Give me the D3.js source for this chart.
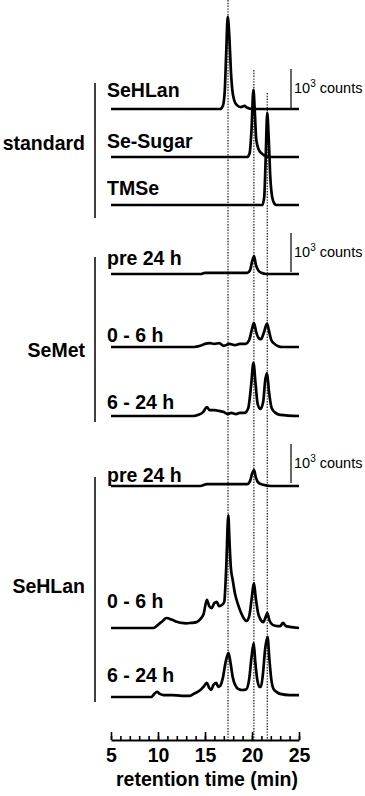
<!DOCTYPE html>
<html>
<head>
<meta charset="utf-8">
<script src="https://cdn.jsdelivr.net/npm/d3@7"></script>
<style>
  html, body { margin: 0; padding: 0; background: #fff; }
  svg { display: block; font-family: "Liberation Sans", Arial, sans-serif; }
</style>
</head>
<body>
<svg id="chart" width="365" height="796"></svg>
<script>
// retention time (min) / intensity (counts)
const stdSeHLan = [[5,0],[16.6,0],[16.9,80],[17.1,450],[17.25,1400],[17.42,2360],[17.6,1800],[17.75,1000],[17.9,500],[18.1,230],[18.4,100],[18.8,50],[19.2,80],[19.5,30],[20,0],[25,0]];
const stdSeSugar = [[5,0],[19.5,0],[19.75,100],[19.95,700],[20.15,1720],[20.3,1150],[20.45,450],[20.7,200],[21.0,100],[21.4,30],[21.7,0],[25,0]];
const stdTMSe = [[5,0],[21.1,0],[21.3,200],[21.45,1150],[21.62,2360],[21.78,1700],[21.95,700],[22.15,200],[22.4,30],[22.6,0],[25,0]];

const semetPre = [[5,0],[14.5,0],[15,30],[17,30],[19.5,30],[19.8,100],[20.0,310],[20.22,460],[20.4,250],[20.65,100],[21,30],[21.5,0],[25,0]];
const semet0to6 = [[5,0],[13.8,0],[14.5,30],[15,80],[15.5,100],[16,80],[16.5,100],[17,30],[17.6,80],[18.2,50],[18.7,80],[19.3,80],[19.7,180],[20.0,460],[20.2,620],[20.45,380],[20.7,230],[20.95,200],[21.25,360],[21.6,600],[21.8,420],[22.05,180],[22.4,80],[22.8,20],[23.2,0],[25,0]];
const semet6to24 = [[5,0],[13.8,0],[14.3,30],[14.8,100],[15.2,230],[15.5,150],[16,150],[16.5,130],[17,100],[17.4,50],[17.8,80],[18.3,50],[18.7,80],[19.2,80],[19.6,200],[19.9,770],[20.15,1360],[20.4,770],[20.6,310],[20.9,180],[21.2,380],[21.4,900],[21.6,1100],[21.8,640],[22.1,200],[22.5,80],[23,30],[25,0]];

const sehlanPre = [[5,0],[14.5,0],[15.2,50],[17,50],[19.5,50],[19.8,130],[20.0,310],[20.22,410],[20.4,230],[20.7,80],[21.2,30],[22,0],[25,0]];
const sehlan0to6 = [[5,0],[9.5,0],[10,80],[10.5,180],[10.9,256],[11.5,210],[12,160],[12.5,130],[13,120],[13.5,130],[14.1,150],[14.5,230],[14.85,360],[15.2,720],[15.45,560],[15.7,510],[16.0,640],[16.25,670],[16.5,560],[16.8,590],[17.05,670],[17.25,1500],[17.48,2890],[17.6,2250],[17.75,1540],[17.95,1230],[18.2,870],[18.5,610],[18.8,410],[19.1,260],[19.4,180],[19.7,300],[19.95,720],[20.2,1150],[20.4,770],[20.65,380],[20.95,200],[21.2,150],[21.45,280],[21.63,380],[21.85,200],[22.2,80],[22.7,50],[23.0,50],[23.3,130],[23.6,50],[24,30],[25,0]];
const sehlan6to24 = [[5,0],[9.3,0],[9.6,80],[9.9,130],[10.2,80],[10.6,50],[11.5,50],[12.5,30],[13.4,30],[13.8,80],[14.2,130],[14.6,200],[14.9,280],[15.2,360],[15.45,230],[15.65,180],[15.9,310],[16.2,360],[16.4,260],[16.6,280],[16.9,490],[17.2,900],[17.5,1130],[17.7,900],[17.95,510],[18.2,310],[18.6,200],[19.0,180],[19.4,200],[19.7,460],[19.95,1020],[20.18,1380],[20.35,900],[20.55,460],[20.8,260],[20.95,260],[21.15,560],[21.4,1230],[21.65,1540],[21.85,970],[22.05,460],[22.3,200],[22.6,130],[23,80],[24,50],[25,50]];

const traceLabels = ["SeHLan", "Se-Sugar", "TMSe", "pre 24 h", "0 - 6 h", "6 - 24 h", "pre 24 h", "0 - 6 h", "6 - 24 h"];
const groupLabels = ["standard", "SeMet", "SeHLan"];
const standardRT = [17.45, 20.2, 21.62]; // dotted reference lines
const xTicks = [5, 10, 15, 20, 25];
const scaleBarCounts = 1000;

// layout
const traces = [stdSeHLan, stdSeSugar, stdTMSe, semetPre, semet0to6, semet6to24, sehlanPre, sehlan0to6, sehlan6to24];
const baselines = [109, 157, 205, 274, 347, 416, 486, 628, 697];
const labelY = [97, 148, 195, 265, 342, 409, 482, 608, 682];
const groupLayout = [
  { labelY: 150, top: 83, bottom: 218, barBase: 108 },
  { labelY: 357, top: 257, bottom: 422, barBase: 272 },
  { labelY: 593, top: 477, bottom: 702, barBase: 483 },
];
const dottedTop = [0, 70, 93];
const axisY = 740;

const svg = d3.select("#chart");
const x = d3.scaleLinear().domain([5, 25]).range([111, 299]);
const y = d3.scaleLinear().domain([0, 1000]).range([0, 39]); // 10^3 counts = 39 px

// dotted lines at the standard retention times
svg.append("g")
  .selectAll("line")
  .data(standardRT)
  .join("line")
  .attr("x1", (d) => x(d))
  .attr("x2", (d) => x(d))
  .attr("y1", (d, i) => dottedTop[i])
  .attr("y2", axisY)
  .attr("stroke", "#000")
  .attr("stroke-width", 1.1)
  .attr("stroke-dasharray", "1.4,1.4");

// chromatograms
traces.forEach((data, i) => {
  const base = baselines[i];
  const line = d3.line()
    .x((d) => x(d[0]))
    .y((d) => base - y(d[1]))
    .curve(d3.curveMonotoneX);
  svg.append("path")
    .datum(data)
    .attr("d", line)
    .attr("fill", "none")
    .attr("stroke", "#000")
    .attr("stroke-width", 2.7)
    .attr("stroke-linejoin", "round");
  svg.append("text")
    .attr("x", 107)
    .attr("y", labelY[i])
    .attr("font-size", 19.5)
    .attr("font-weight", "bold")
    .text(traceLabels[i]);
});

// group labels, brackets and scale bars
groupLabels.forEach((name, i) => {
  const g = groupLayout[i];
  svg.append("text")
    .attr("x", 85)
    .attr("y", g.labelY)
    .attr("text-anchor", "end")
    .attr("font-size", 19.5)
    .attr("font-weight", "bold")
    .text(name);
  svg.append("line")
    .attr("x1", 95).attr("x2", 95)
    .attr("y1", g.top).attr("y2", g.bottom)
    .attr("stroke", "#000").attr("stroke-width", 1.5);

  svg.append("line")
    .attr("x1", 291).attr("x2", 291)
    .attr("y1", g.barBase).attr("y2", g.barBase - y(scaleBarCounts))
    .attr("stroke", "#000").attr("stroke-width", 1.2);
  const t = svg.append("text")
    .attr("x", 294)
    .attr("y", g.barBase - 15)
    .attr("font-size", 14.5);
  t.append("tspan").text("10");
  t.append("tspan").attr("font-size", 10).attr("dy", -6).text("3");
  t.append("tspan").attr("dy", 6).text(" counts");
});

// x axis: minor ticks every minute, major every 5
const axisG = svg.append("g").attr("transform", `translate(0,${axisY})`);
axisG.append("g")
  .call(d3.axisBottom(x).tickValues(d3.range(5, 26, 1)).tickSizeInner(-4).tickSizeOuter(0).tickFormat(""))
  .call((g) => g.select(".domain").remove())
  .selectAll("line").attr("stroke-width", 1.6);
axisG.append("g")
  .call(d3.axisBottom(x).tickValues(xTicks).tickSizeInner(-8).tickSizeOuter(0).tickPadding(8))
  .call((g) => g.select(".domain").attr("stroke-width", 2))
  .call((g) => g.selectAll("line").attr("stroke-width", 1.6))
  .call((g) => g.selectAll("text")
    .attr("font-size", 19.5)
    .attr("font-weight", "bold")
    .attr("fill", "#000")
    .attr("font-family", "Liberation Sans, Arial, sans-serif"));

svg.append("text")
  .attr("x", 207)
  .attr("y", 786)
  .attr("text-anchor", "middle")
  .attr("font-size", 19.5)
  .attr("font-weight", "bold")
  .text("retention time (min)");
</script>
</body>
</html>
